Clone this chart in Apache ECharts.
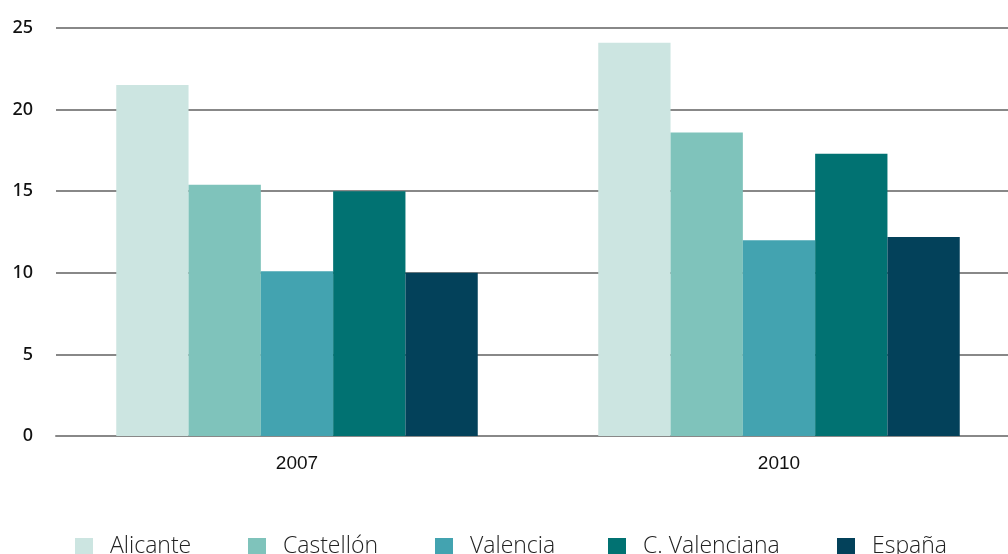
<!DOCTYPE html>
<html lang="es">
<head>
    <meta charset="UTF-8">
    <title>Gráfico</title>
    <style>
        html, body { margin: 0; padding: 0; background: #fff; overflow: hidden; }
        #main { width: 1020px; height: 554px; }
    </style>
</head>
<body>
<div id="main"></div>
<script src="https://cdn.jsdelivr.net/npm/echarts@6/dist/echarts.min.js"></script>
<script>
    // datos
    var years = ['2007', '2010'];
    var seriesNames = ['Alicante', 'Castellón', 'Valencia', 'C. Valenciana', 'España'];
    var alicante = [21.5, 24.1];
    var castellon = [15.4, 18.6];
    var valencia = [10.1, 12.0];
    var cValenciana = [15.0, 17.3];
    var espana = [10.0, 12.2];
    var yTicks = [0, 5, 10, 15, 20, 25];

    var colors = ['#cce5e1', '#7fc3bb', '#43a3b0', '#017272', '#03415a'];
    var values = [alicante, castellon, valencia, cValenciana, espana];
    // posicion de cada entrada de la leyenda
    var legendLeft = [75, 248, 435, 608, 837];

    var series = [];
    var legends = [];
    for (var i = 0; i < seriesNames.length; i++) {
        series.push({
            name: seriesNames[i],
            type: 'bar',
            data: values[i],
            barGap: '0%',
            barCategoryGap: '25%',
            itemStyle: { color: colors[i] }
        });
        legends.push({
            data: [seriesNames[i]],
            left: legendLeft[i],
            top: 535,
            itemWidth: 18,
            itemHeight: 17,
            icon: 'rect',
            padding: 0,
            textStyle: { fontSize: 23, color: '#222', fontFamily: 'Open Sans', fontWeight: 300, padding: [0, 0, 0, 12] }
        });
    }

    var myChart = echarts.init(document.getElementById('main'));
    var option = {
        animation: false,
        color: colors,
        textStyle: { fontFamily: 'Open Sans' },
        grid: { left: 56, right: 0, top: 28, bottom: 118, containLabel: false },
        legend: legends,
        xAxis: {
            type: 'category',
            data: years,
            axisLine: { show: true, lineStyle: { color: '#888', width: 2 } },
            axisTick: { show: false },
            axisLabel: { color: '#111', fontSize: 19, fontFamily: 'Liberation Sans', margin: 18 }
        },
        yAxis: {
            type: 'value',
            min: yTicks[0],
            max: yTicks[yTicks.length - 1],
            interval: 5,
            axisLine: { show: false },
            axisTick: { show: false },
            axisLabel: { color: '#111', fontSize: 18, fontFamily: 'Noto Sans', fontWeight: 500, margin: 23 },
            splitLine: { lineStyle: { color: '#888', width: 2 } }
        },
        series: series
    };
    myChart.setOption(option);
</script>
</body>
</html>
